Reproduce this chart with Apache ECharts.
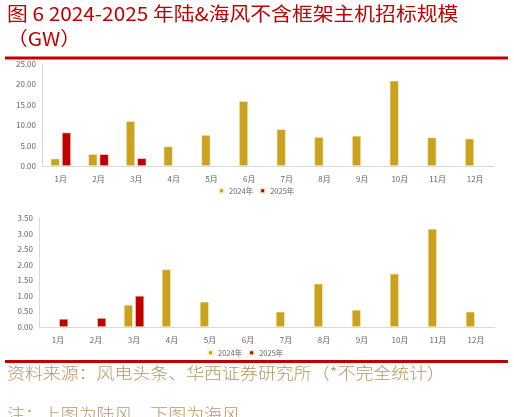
<!DOCTYPE html>
<html>
<head>
<meta charset="utf-8">
<script src="https://cdn.jsdelivr.net/npm/echarts@6/dist/echarts.min.js"></script>
<style>
html,body{margin:0;padding:0;background:#fff;}
#main{width:514px;height:417px;}
</style>
</head>
<body>
<div id="main"></div>
<script>
var months = ['1月','2月','3月','4月','5月','6月','7月','8月','9月','10月','11月','12月'];
var land2024 = [1.8, 2.9, 11.0, 4.8, 7.6, 15.9, 9.0, 7.1, 7.4, 20.9, 7.0, 6.7];
var land2025 = [8.2, 2.9, 1.9, null, null, null, null, null, null, null, null, null];
var sea2024 = [null, null, 0.71, 1.85, 0.81, null, 0.49, 1.39, 0.55, 1.71, 3.15, 0.49];
var sea2025 = [0.26, 0.29, 1.00, null, null, null, null, null, null, null, null, null];
var seriesNames = ['2024年', '2025年'];
var titleLine1 = '图 6 2024-2025 年陆&海风不含框架主机招标规模';
var titleLine2 = '（GW）';
var sourceText = '资料来源：风电头条、华西证券研究所（*不完全统计）';
var noteText = '注：上图为陆风，下图为海风';

var GOLD = '#C9A21F';
var RED = '#C00000';
var FONT = '"Noto Sans CJK SC", "Noto Sans", sans-serif';

var chart = echarts.init(document.getElementById('main'), null, {renderer: 'canvas'});

function yAxis(gridIndex, max, interval) {
  return {
    gridIndex: gridIndex, type: 'value', min: 0, max: max, interval: interval,
    axisLine: {show: true, lineStyle: {color: '#D9D9D9', width: 1}},
    axisTick: {show: false},
    splitLine: {show: false},
    axisLabel: {color: '#666666', fontSize: 8, fontFamily: FONT, margin: 6,
      formatter: function (v) { return v.toFixed(2); }}
  };
}
function xAxis(gridIndex) {
  return {
    gridIndex: gridIndex, type: 'category', data: months,
    axisLine: {show: true, lineStyle: {color: '#D9D9D9', width: 1}},
    axisTick: {show: false},
    axisLabel: {color: '#666666', fontSize: 8, fontFamily: FONT, margin: 9}
  };
}
function bar(name, data, idx, color) {
  return {
    name: name, type: 'bar', xAxisIndex: idx, yAxisIndex: idx, data: data,
    barWidth: 9, barGap: '25%',
    itemStyle: {color: color, borderColor: 'rgba(255,245,215,0.9)', borderWidth: 0.6},
    emphasis: {disabled: true}
  };
}

chart.setOption({
  animation: false,
  backgroundColor: '#fff',
  textStyle: {fontFamily: FONT},
  grid: [
    {left: 42, right: 20, top: 64, bottom: 251, containLabel: false},
    {left: 39, right: 19, top: 218, bottom: 90, containLabel: false}
  ],
  xAxis: [xAxis(0), xAxis(1)],
  yAxis: [yAxis(0, 25, 5), yAxis(1, 3.5, 0.5)],
  legend: [
    {data: seriesNames, left: 218, top: 187, itemWidth: 5, itemHeight: 5, itemGap: 6,
     icon: 'rect', textStyle: {fontSize: 7.5, color: '#666666', fontFamily: FONT}, padding: 0,
     selectedMode: false},
    {data: seriesNames, left: 207, top: 349, itemWidth: 5, itemHeight: 5, itemGap: 6,
     icon: 'rect', textStyle: {fontSize: 7.5, color: '#666666', fontFamily: FONT}, padding: 0,
     selectedMode: false}
  ],
  series: [
    bar(seriesNames[0], land2024, 0, GOLD),
    bar(seriesNames[1], land2025, 0, RED),
    bar(seriesNames[0], sea2024, 1, GOLD),
    bar(seriesNames[1], sea2025, 1, RED)
  ],
  graphic: [
    {type: 'text', x: 7, y: 4, scaleX: 1.095, style: {text: titleLine1, fill: '#C00000', font: '19px ' + FONT, textVerticalAlign: 'top'}},
    {type: 'text', x: 7, y: 29, scaleX: 1.095, style: {text: titleLine2, fill: '#C00000', font: '19px ' + FONT, textVerticalAlign: 'top'}},
    {type: 'rect', shape: {x: 5, y: 56.5, width: 503, height: 3}, style: {fill: '#C00000'}},
    {type: 'rect', shape: {x: 5, y: 360, width: 503, height: 3}, style: {fill: '#C00000'}},
    {type: 'text', x: 7, y: 365, scaleX: 1.12, style: {text: sourceText, fill: '#B8955E', font: '300 16px ' + FONT, textVerticalAlign: 'top'}},
    {type: 'text', x: 7, y: 406, scaleX: 1.12, style: {text: noteText, fill: '#B8955E', font: '300 16px ' + FONT, textVerticalAlign: 'top'}}
  ]
});
</script>
</body>
</html>
